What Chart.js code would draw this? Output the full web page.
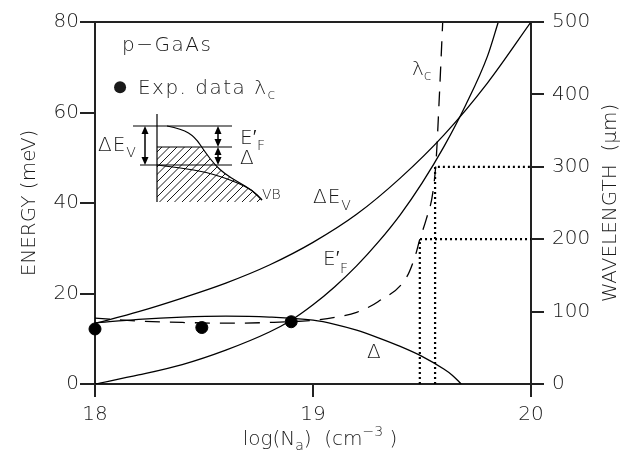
<!DOCTYPE html>
<html><head><meta charset="utf-8">
<script src="https://cdn.jsdelivr.net/npm/chart.js@4.4.1/dist/chart.umd.min.js"></script>
<style>html,body{margin:0;padding:0;background:#fff;}#wrap{width:632px;height:453px;position:relative;}</style>
</head><body><div id="wrap"><canvas id="c"></canvas></div>
<script>
// ---- data ----
const xTicks = [18, 19, 20];
const energyTicks = [0, 20, 40, 60, 80];
const wavelengthTicks = [0, 100, 200, 300, 400, 500];

const xDeltaEv = [18.0, 18.2, 18.4, 18.6, 18.8, 19.0, 19.2, 19.4, 19.6, 19.8, 20.0];
const deltaEv  = [13.4, 16.0, 19.0, 22.3, 26.3, 31.3, 37.5, 45.5, 55.0, 66.5, 80.0];

const xEf     = [18.0, 18.2, 18.4, 18.6, 18.8, 18.9, 19.0, 19.1, 19.2, 19.3, 19.4, 19.5, 19.6, 19.7, 19.8, 19.85];
const efPrime = [0.0, 2.0, 4.3, 7.5, 11.5, 14.1, 17.5, 21.5, 26.1, 31.4, 37.4, 44.4, 52.4, 61.6, 72.4, 80.0];

const xGap     = [18.0, 18.2, 18.4, 18.6, 18.8, 19.0, 19.1, 19.2, 19.3, 19.4, 19.5, 19.6, 19.64, 19.68];
const gapDelta = [13.5, 14.3, 14.8, 15.0, 14.8, 14.1, 13.2, 11.9, 10.2, 8.3, 6.1, 3.3, 1.9, 0.0];

const xLambda = [18.0, 18.2, 18.4, 18.6, 18.8, 19.0, 19.1, 19.2, 19.3, 19.43, 19.47, 19.49, 19.52, 19.55, 19.565, 19.58, 19.595];
const lambdaC = [91, 87, 85, 84, 85, 88, 92, 99, 114, 148, 178, 200, 228, 265, 310, 400, 500];

const xExp = [18.0, 18.49, 18.9];
const expLambda = [76, 78, 86];

const cutoffX = [19.49, 19.56];
const cutoffLambda = [200, 300];

// ---- build ----
const zip = (xs, ys) => xs.map((x, i) => ({x, y: ys[i]}));
const FONT = 'DejaVu Sans';
const WEIGHT = '200';
const INK = '#1a1a1a';

const curve = (data, axis, dash) => ({
  data, yAxisID: axis, borderColor: '#000', borderWidth: 1.3, pointRadius: 0,
  cubicInterpolationMode: 'monotone', fill: false, borderDash: dash || []
});

const datasets = [
  curve(zip(xDeltaEv, deltaEv), 'y'),
  curve(zip(xEf, efPrime), 'y'),
  curve(zip(xGap, gapDelta), 'y'),
  curve(zip(xLambda, lambdaC), 'y2', [15, 10]),
  {data: zip(xExp, expLambda), yAxisID: 'y2', showLine: false, pointRadius: 6,
   pointBackgroundColor: '#000', pointBorderColor: '#000', clip: false},
];
cutoffX.forEach((cx, i) => {
  datasets.push({
    data: [{x: cx, y: 0}, {x: cx, y: cutoffLambda[i]}, {x: 20, y: cutoffLambda[i]}],
    yAxisID: 'y2', borderColor: '#000', borderWidth: 2.2, borderDash: [2, 3],
    pointRadius: 0, tension: 0, fill: false
  });
});

function setFont(ctx, size) { ctx.font = WEIGHT + ' ' + size + 'px "' + FONT + '"'; }

function rich(ctx, x, y, parts, align) {
  // parts: [text, size, dy, spacing]
  let w = 0;
  parts.forEach(p => { setFont(ctx, p[1]); ctx.letterSpacing = (p[3] || 0) + 'px'; w += ctx.measureText(p[0]).width; });
  let cx = align === 'center' ? x - w / 2 : x;
  parts.forEach(p => {
    setFont(ctx, p[1]); ctx.letterSpacing = (p[3] || 0) + 'px';
    ctx.fillText(p[0], cx, y + (p[2] || 0));
    cx += ctx.measureText(p[0]).width;
  });
  ctx.letterSpacing = '0px';
}

function smooth(ctx, pts) {
  ctx.beginPath();
  ctx.moveTo(pts[0][0], pts[0][1]);
  for (let i = 1; i < pts.length - 1; i++) {
    const mx = (pts[i][0] + pts[i + 1][0]) / 2, my = (pts[i][1] + pts[i + 1][1]) / 2;
    ctx.quadraticCurveTo(pts[i][0], pts[i][1], mx, my);
  }
  const l = pts[pts.length - 1];
  ctx.lineTo(l[0], l[1]);
  ctx.stroke();
}

function arrow(ctx, x, y1, y2) {
  ctx.beginPath(); ctx.moveTo(x, y1 + 4); ctx.lineTo(x, y2 - 4); ctx.stroke();
  ctx.beginPath(); ctx.moveTo(x, y1); ctx.lineTo(x - 3.5, y1 + 8); ctx.lineTo(x + 3.5, y1 + 8); ctx.closePath(); ctx.fill();
  ctx.beginPath(); ctx.moveTo(x, y2); ctx.lineTo(x - 3.5, y2 - 8); ctx.lineTo(x + 3.5, y2 - 8); ctx.closePath(); ctx.fill();
}

const deco = {
  id: 'deco',
  afterDraw(chart) {
    const {ctx, chartArea: a, scales} = chart;
    const X = v => scales.x.getPixelForValue(v), Y = v => scales.y.getPixelForValue(v);
    ctx.save();
    // top frame line
    ctx.strokeStyle = '#222'; ctx.lineWidth = 2;
    ctx.beginPath(); ctx.moveTo(a.left - 1, a.top); ctx.lineTo(a.right + 1, a.top); ctx.stroke();

    ctx.fillStyle = INK; ctx.textBaseline = 'alphabetic'; ctx.textAlign = 'left';
    // text labels
    rich(ctx, X(18.124), Y(73.6), [['p\u2212GaAs', 20, 0, 1.5]]);
    ctx.beginPath(); ctx.arc(X(18.115), Y(65.6), 6, 0, Math.PI * 2); ctx.fill();
    rich(ctx, X(18.197), Y(64.1), [['Exp. data \u03bb', 20, 0, 1.5], ['c', 14, 5]]);
    rich(ctx, X(19.454), Y(68.3), [['\u03bb', 20, 0], ['c', 14, 5]]);
    rich(ctx, X(19.0), Y(40.0), [['\u0394E', 20, 0, 1], ['V', 14, 7]]);
    rich(ctx, X(19.046), Y(26.3), [['E\u2032', 20, 0], ['F', 14, 8]]);
    rich(ctx, X(19.248), Y(5.75), [['\u0394', 20, 0]]);

    // axis titles
    rich(ctx, 320, 445, [['log(N', 20, 0], ['a', 14, 5], [')  (cm', 20, 0], ['\u22123', 14, -9], [' )', 20, 0]], 'center');
    ctx.save(); ctx.translate(30, (a.top + a.bottom) / 2); ctx.rotate(-Math.PI / 2);
    ctx.textBaseline = 'middle';
    rich(ctx, 0, 0, [['ENERGY (meV)', 20, 0]], 'center'); ctx.restore();
    ctx.save(); ctx.translate(611, (a.top + a.bottom) / 2); ctx.rotate(-Math.PI / 2);
    ctx.textBaseline = 'middle';
    rich(ctx, 0, 0, [['WAVELENGTH  (\u03bcm)', 20, 0]], 'center'); ctx.restore();

    // inset schematic (pixel offsets from chart area origin)
    const ox = a.left, oy = a.top;
    const P = (dx, dy) => [ox + dx, oy + dy];
    ctx.strokeStyle = '#000'; ctx.fillStyle = '#000'; ctx.lineWidth = 1.2;
    const fermi = [[72,104],[87,107],[100,115],[110,130],[120,143],[130,152],[143,160],[157,168],[167,178]].map(p => P(p[0], p[1]));
    const vb = [[62,143],[87,146],[110,150],[127,155],[143,161],[157,168],[167,178]].map(p => P(p[0], p[1]));
    // hatch region
    ctx.save();
    ctx.beginPath();
    ctx.moveTo(...P(62, 125)); ctx.lineTo(...P(107, 125));
    [[110,130],[120,143],[130,152],[143,160],[157,168],[167,178]].forEach(p => ctx.lineTo(...P(p[0], p[1])));
    ctx.lineTo(...P(167, 180)); ctx.lineTo(...P(62, 180)); ctx.closePath(); ctx.clip();
    ctx.lineWidth = 0.9;
    for (let k = -80; k < 200; k += 7.5) {
      ctx.beginPath(); ctx.moveTo(ox + 62 + k, oy + 180); ctx.lineTo(ox + 62 + k + 60, oy + 120); ctx.stroke();
    }
    ctx.restore();
    ctx.lineWidth = 1.2;
    ctx.beginPath();
    ctx.moveTo(...P(62, 92)); ctx.lineTo(...P(62, 180));
    ctx.moveTo(...P(38, 104)); ctx.lineTo(...P(137, 104));
    ctx.moveTo(...P(62, 125)); ctx.lineTo(...P(137, 125));
    ctx.moveTo(...P(45, 143)); ctx.lineTo(...P(137, 143));
    ctx.stroke();
    smooth(ctx, fermi); smooth(ctx, vb);
    ctx.lineWidth = 1.5;
    arrow(ctx, ox + 50, oy + 104, oy + 143);
    arrow(ctx, ox + 123, oy + 104, oy + 125);
    arrow(ctx, ox + 123, oy + 125, oy + 143);
    ctx.fillStyle = INK;
    rich(ctx, ox + 3, oy + 129, [['\u0394E', 20, 0, 1], ['V', 14, 6]]);
    rich(ctx, ox + 145, oy + 122, [['E\u2032', 20, 0], ['F', 14, 6]]);
    rich(ctx, ox + 145, oy + 142, [['\u0394', 20, 0]]);
    rich(ctx, ox + 167, oy + 177, [['VB', 14, 0]]);
    ctx.restore();
  }
};

const tickFont = {family: FONT, size: 20, weight: WEIGHT};
const axisGrid = len => ({display: true, drawOnChartArea: false, drawTicks: true, tickLength: len, color: '#222', lineWidth: 2});
const axisBorder = {display: true, color: '#222', width: 2};

new Chart(document.getElementById('c'), {
  type: 'line',
  data: {datasets},
  options: {
    responsive: true, maintainAspectRatio: false, animation: false,
    layout: {padding: {top: 22, left: 0, right: 0, bottom: 0}},
    plugins: {legend: {display: false}, tooltip: {enabled: false}},
    scales: {
      x: {type: 'linear', min: 18, max: 20,
          afterBuildTicks: s => { s.ticks = xTicks.map(v => ({value: v})); },
          ticks: {font: tickFont, color: INK, padding: 6, callback: v => String(v), maxRotation: 0},
          grid: axisGrid(13), border: axisBorder,
          afterFit: s => { s.height = 69; }},
      y: {type: 'linear', position: 'left', min: 0, max: 80,
          afterBuildTicks: s => { s.ticks = energyTicks.map(v => ({value: v})); },
          ticks: {font: tickFont, color: INK, padding: 1},
          grid: axisGrid(15), border: axisBorder,
          afterFit: s => { s.width = 95; }},
      y2: {type: 'linear', position: 'right', min: 0, max: 500,
          afterBuildTicks: s => { s.ticks = wavelengthTicks.map(v => ({value: v})); },
          ticks: {font: tickFont, color: INK, padding: 8},
          grid: axisGrid(13), border: axisBorder,
          afterFit: s => { s.width = 101; }}
    }
  },
  plugins: [deco]
});
</script></body></html>
